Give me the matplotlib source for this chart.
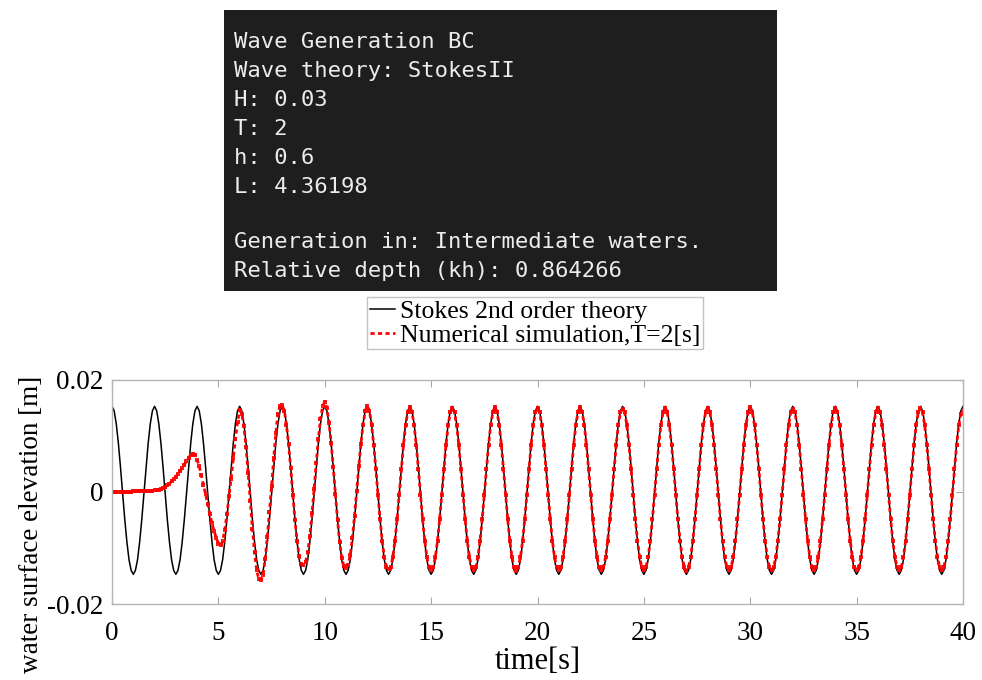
import matplotlib.pyplot as plt
import numpy as np
from matplotlib.patches import Rectangle

# time samples [s], every 0.1 s
time = np.linspace(0, 40, 401)

# Stokes 2nd order theory, values in 1e-4 m
theory = [
    153, 145, 122, 87, 44, -3, -49, -89, -121, -140, -147, -140, -121, -89, -49, -3, 44, 87, 122, 145,
    153, 145, 122, 87, 44, -3, -49, -89, -121, -140, -147, -140, -121, -89, -49, -3, 44, 87, 122, 145,
    153, 145, 122, 87, 44, -3, -49, -89, -121, -140, -147, -140, -121, -89, -49, -3, 44, 87, 122, 145,
    153, 145, 122, 87, 44, -3, -49, -89, -121, -140, -147, -140, -121, -89, -49, -3, 44, 87, 122, 145,
    153, 145, 122, 87, 44, -3, -49, -89, -121, -140, -147, -140, -121, -89, -49, -3, 44, 87, 122, 145,
    153, 145, 122, 87, 44, -3, -49, -89, -121, -140, -147, -140, -121, -89, -49, -3, 44, 87, 122, 145,
    153, 145, 122, 87, 44, -3, -49, -89, -121, -140, -147, -140, -121, -89, -49, -3, 44, 87, 122, 145,
    153, 145, 122, 87, 44, -3, -49, -89, -121, -140, -147, -140, -121, -89, -49, -3, 44, 87, 122, 145,
    153, 145, 122, 87, 44, -3, -49, -89, -121, -140, -147, -140, -121, -89, -49, -3, 44, 87, 122, 145,
    153, 145, 122, 87, 44, -3, -49, -89, -121, -140, -147, -140, -121, -89, -49, -3, 44, 87, 122, 145,
    153, 145, 122, 87, 44, -3, -49, -89, -121, -140, -147, -140, -121, -89, -49, -3, 44, 87, 122, 145,
    153, 145, 122, 87, 44, -3, -49, -89, -121, -140, -147, -140, -121, -89, -49, -3, 44, 87, 122, 145,
    153, 145, 122, 87, 44, -3, -49, -89, -121, -140, -147, -140, -121, -89, -49, -3, 44, 87, 122, 145,
    153, 145, 122, 87, 44, -3, -49, -89, -121, -140, -147, -140, -121, -89, -49, -3, 44, 87, 122, 145,
    153, 145, 122, 87, 44, -3, -49, -89, -121, -140, -147, -140, -121, -89, -49, -3, 44, 87, 122, 145,
    153, 145, 122, 87, 44, -3, -49, -89, -121, -140, -147, -140, -121, -89, -49, -3, 44, 87, 122, 145,
    153, 145, 122, 87, 44, -3, -49, -89, -121, -140, -147, -140, -121, -89, -49, -3, 44, 87, 122, 145,
    153, 145, 122, 87, 44, -3, -49, -89, -121, -140, -147, -140, -121, -89, -49, -3, 44, 87, 122, 145,
    153, 145, 122, 87, 44, -3, -49, -89, -121, -140, -147, -140, -121, -89, -49, -3, 44, 87, 122, 145,
    153, 145, 122, 87, 44, -3, -49, -89, -121, -140, -147, -140, -121, -89, -49, -3, 44, 87, 122, 145,
    153,
]

# numerical simulation, T=2 s, values in 1e-4 m
simulation = [
    0, 0, 0, 0, 0, 0, 0, 0, 0, 0, 1, 1, 1, 1, 1, 1, 1, 2, 2, 2,
    3, 3, 4, 5, 7, 9, 12, 15, 19, 23, 27, 32, 37, 43, 49, 55, 61, 66, 68, 66,
    58, 46, 30, 12, -4, -22, -40, -56, -70, -82, -92, -95, -88, -68, -40, -8, 24, 60, 95, 125,
    146, 140, 118, 80, 34, -16, -66, -108, -140, -155, -157, -148, -120, -80, -35, 10, 60, 105, 140, 154,
    155, 145, 120, 85, 42, -5, -50, -88, -115, -128, -130, -125, -108, -78, -38, 5, 52, 95, 130, 153,
    161, 150, 124, 88, 44, -4, -50, -90, -118, -132, -135, -130, -112, -82, -42, 2, 46, 86, 120, 145,
    154, 145, 120, 84, 41, -5, -49, -87, -116, -134, -138, -134, -116, -87, -49, -5, 41, 84, 119, 142,
    151, 143, 119, 84, 41, -5, -49, -87, -116, -134, -140, -134, -116, -87, -49, -5, 41, 84, 119, 142,
    150, 142, 119, 84, 41, -5, -49, -87, -116, -134, -139, -134, -116, -87, -49, -5, 41, 84, 119, 142,
    152, 143, 119, 84, 41, -5, -49, -87, -116, -134, -141, -134, -116, -87, -49, -5, 41, 84, 119, 142,
    150, 142, 119, 84, 41, -5, -49, -87, -116, -134, -140, -134, -116, -87, -49, -5, 41, 84, 119, 142,
    151, 142, 119, 84, 41, -5, -49, -87, -116, -134, -139, -134, -116, -87, -49, -5, 41, 84, 119, 142,
    149, 142, 119, 84, 41, -5, -49, -87, -116, -134, -140, -134, -116, -87, -49, -5, 41, 84, 119, 142,
    150, 142, 119, 84, 41, -5, -49, -87, -116, -134, -141, -134, -116, -87, -49, -5, 41, 84, 119, 142,
    150, 142, 119, 84, 41, -5, -49, -87, -116, -134, -139, -134, -116, -87, -49, -5, 41, 84, 119, 142,
    151, 142, 119, 84, 41, -5, -49, -87, -116, -134, -140, -134, -116, -87, -49, -5, 41, 84, 119, 142,
    149, 142, 119, 84, 41, -5, -49, -87, -116, -134, -140, -134, -116, -87, -49, -5, 41, 84, 119, 142,
    150, 142, 119, 84, 41, -5, -49, -87, -116, -134, -139, -134, -116, -87, -49, -5, 41, 84, 119, 142,
    150, 142, 119, 84, 41, -5, -49, -87, -116, -134, -140, -134, -116, -87, -49, -5, 41, 84, 119, 142,
    150, 142, 119, 84, 41, -5, -49, -87, -116, -134, -140, -134, -116, -87, -49, -5, 41, 84, 119, 140,
    145,
]

info_lines = [
    'Wave Generation BC',
    'Wave theory: StokesII',
    'H: 0.03',
    'T: 2',
    'h: 0.6',
    'L: 4.36198',
    '',
    'Generation in: Intermediate waters.',
    'Relative depth (kh): 0.864266',
]

eta_theory = np.array(theory) * 1e-4
eta_sim = np.array(simulation) * 1e-4

W, H = 982, 680
fig = plt.figure(figsize=(W / 100, H / 100), dpi=100)

# terminal output box
fig.add_artist(Rectangle((224 / W, 1 - 291 / H), 553 / W, 281 / H,
                         transform=fig.transFigure, facecolor='#1e1e1e', edgecolor='none'))
for i, line in enumerate(info_lines):
    y = 40 + 29 * i - (3 if i > 6 else 0)
    fig.text(234 / W, 1 - y / H, line, family='DejaVu Sans Mono', fontsize=16,
             color='#ececec', va='center_baseline', ha='left')

serif = 'Liberation Serif'
ax = fig.add_axes([112 / W, 1 - 604 / H, 851 / W, 224 / H])
ax.plot(time, eta_theory, color='black', lw=1.1, label='Stokes 2nd order theory')
ax.plot(time, eta_sim, color='red', lw=2.0, ls=(0, (1.5, 1.2)),
        label='Numerical simulation,T=2[s]')
ax.plot(time, eta_sim, color='red', lw=0, marker='s', ms=2.6, mew=0, alpha=0.9)

ax.set_xlim(0, 40)
ax.set_ylim(-0.02, 0.02)
ax.set_xticks([0, 5, 10, 15, 20, 25, 30, 35, 40])
ax.set_yticks([-0.02, 0, 0.02])
ax.set_yticklabels(['-0.02', '0', '0.02'])
ax.tick_params(direction='in', top=True, right=True, length=5, color='#a8a8a8',
               labelsize=19.5)
ax.tick_params(axis='x', pad=12)
ax.tick_params(axis='y', pad=6)
for lab in ax.get_xticklabels() + ax.get_yticklabels():
    lab.set_family(serif)
for s in ax.spines.values():
    s.set_color('#b4b4b4')
    s.set_linewidth(1.0)

ax.set_xlabel('time[s]', family=serif, fontsize=22)
ax.xaxis.set_label_coords(0.5, -0.19)
ax.set_ylabel('water surface elevation [m]', family=serif, fontsize=19.5)
ax.yaxis.set_label_coords(-0.08, 0.357)

leg = ax.legend(loc='upper left', bbox_to_anchor=(367 / W, 1 - 297 / H),
                bbox_transform=fig.transFigure, prop={'family': serif, 'size': 18.5},
                frameon=True, fancybox=False, edgecolor='#b4b4b4', handlelength=1.0,
                handletextpad=0.2, borderpad=0.1, labelspacing=0.05, borderaxespad=0)
leg.get_frame().set_linewidth(1.0)

fig.savefig('out.png', dpi=100)
